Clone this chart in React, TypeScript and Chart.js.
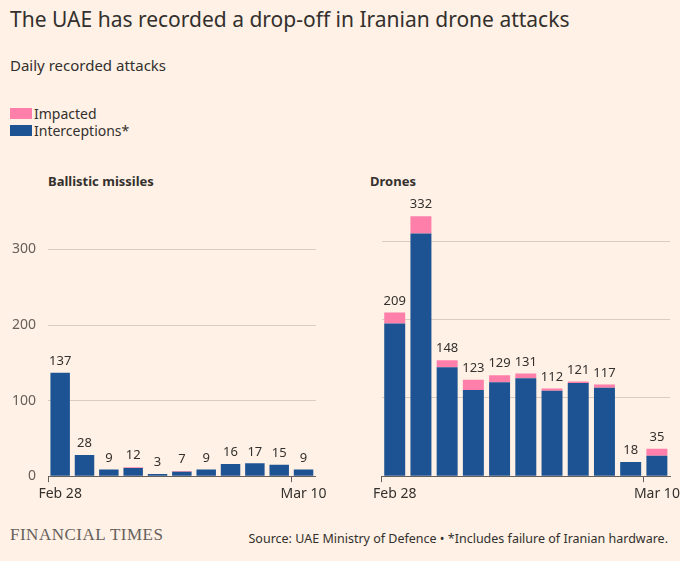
import React, { useEffect, useRef } from "react";
import { Chart, registerables } from "chart.js";
Chart.register(...registerables);

const days = ["Feb 28", "", "", "", "", "", "", "", "", "", "Mar 10"];
const missileTotals = [137, 28, 9, 12, 3, 7, 9, 16, 17, 15, 9];
const missileImpacted = [0, 0, 0, 1, 0, 1, 0, 0, 0, 0, 0];
const droneTotals = [209, 332, 148, 123, 129, 131, 112, 121, 117, 18, 35];
const droneImpacted = [14, 22, 9, 13, 9, 6, 3, 2, 4, 0, 9];
const yTicks = [0, 100, 200, 300];

const BLUE = "#1e5393";
const PINK = "#ff7fab";
const BG = "#fff1e5";
const FONT = "'Noto Sans', 'Open Sans', sans-serif";

const labelPlugin = {
  id: "totals",
  afterDatasetsDraw(chart: any) {
    const totals: number[] = chart.options.plugins.totals.values;
    const ctx = chart.ctx;
    const meta = chart.getDatasetMeta(1);
    ctx.save();
    ctx.font = `13px ${FONT}`;
    ctx.fillStyle = "#33302e";
    ctx.textAlign = "center";
    ctx.textBaseline = "bottom";
    meta.data.forEach((bar: any, i: number) => {
      const y = chart.scales.y.getPixelForValue(totals[i]);
      ctx.fillText(String(totals[i]), bar.x, y - 5);
    });
    ctx.restore();
  },
};

function Panel({ totals, impacted, showY }: { totals: number[]; impacted: number[]; showY: boolean }) {
  const ref = useRef<HTMLCanvasElement>(null);
  useEffect(() => {
    const inter = totals.map((t, i) => t - impacted[i]);
    const chart = new Chart(ref.current!, {
      type: "bar",
      data: {
        labels: days,
        datasets: [
          { label: "Interceptions*", data: inter, backgroundColor: BLUE, barPercentage: 0.8, categoryPercentage: 1 },
          { label: "Impacted", data: impacted, backgroundColor: PINK, barPercentage: 0.8, categoryPercentage: 1 },
        ],
      },
      options: {
        animation: false,
        responsive: false,
        layout: { padding: { top: 11, right: showY ? 10 : 30, left: 0 } },
        plugins: { legend: { display: false }, tooltip: { enabled: false }, totals: { values: totals } } as any,
        scales: {
          x: {
            stacked: true,
            grid: {
              drawOnChartArea: false,
              tickLength: 6,
              color: (c: any) => (days[c.index] ? "#66605c" : "rgba(0,0,0,0)"),
            },
            border: { color: "#66605c" },
            ticks: { autoSkip: false, maxRotation: 0, color: "#33302e", font: { size: 14, family: FONT } },
          },
          y: {
            stacked: true,
            min: 0,
            max: 345,
            afterBuildTicks: (s: any) => { s.ticks = yTicks.map((v) => ({ value: v })); },
            afterFit: (s: any) => { s.width = showY ? 48 : 0; },
            grid: { color: "#d9cdc3", drawTicks: false },
            border: { display: false },
            ticks: { display: showY, color: "#66605c", padding: 12, font: { size: 14, family: FONT } },
          },
        },
      },
      plugins: [labelPlugin],
    });
    return () => chart.destroy();
  }, []);
  return <canvas ref={ref} width={330} height={310} />;
}

export default function App() {
  return (
    <div style={{ position: "absolute", left: 0, top: 0, width: 680, height: 561, background: BG, fontFamily: FONT, color: "#33302e", overflow: "hidden" }}>
      <div style={{ position: "absolute", left: 10, top: 5, fontSize: 21 }}>The UAE has recorded a drop-off in Iranian drone attacks</div>
      <div style={{ position: "absolute", left: 10, top: 55, fontSize: 15 }}>Daily recorded attacks</div>
      <div style={{ position: "absolute", left: 10, top: 105, fontSize: 14, lineHeight: "17px" }}>
        <div style={{ display: "flex", alignItems: "center" }}>
          <span style={{ width: 22, height: 11, background: PINK, display: "inline-block", marginRight: 2 }} />Impacted
        </div>
        <div style={{ display: "flex", alignItems: "center" }}>
          <span style={{ width: 22, height: 11, background: BLUE, display: "inline-block", marginRight: 2 }} />Interceptions*
        </div>
      </div>
      <div style={{ position: "absolute", left: 48, top: 172, fontSize: 13, fontWeight: 700 }}>Ballistic missiles</div>
      <div style={{ position: "absolute", left: 370, top: 172, fontSize: 13, fontWeight: 700 }}>Drones</div>
      <div style={{ position: "absolute", left: 0, top: 195 }}>
        <Panel totals={missileTotals} impacted={missileImpacted} showY={true} />
      </div>
      <div style={{ position: "absolute", left: 370, top: 195 }}>
        <Panel totals={droneTotals} impacted={droneImpacted} showY={false} />
      </div>
      <div style={{ position: "absolute", left: 10, top: 525, fontSize: 17, fontFamily: "'Liberation Serif', serif", color: "#66605c", letterSpacing: 0.5 }}>FINANCIAL TIMES</div>
      <div style={{ position: "absolute", right: 12, top: 530, fontSize: 12.5 }}>Source: UAE Ministry of Defence • *Includes failure of Iranian hardware.</div>
    </div>
  );
}
